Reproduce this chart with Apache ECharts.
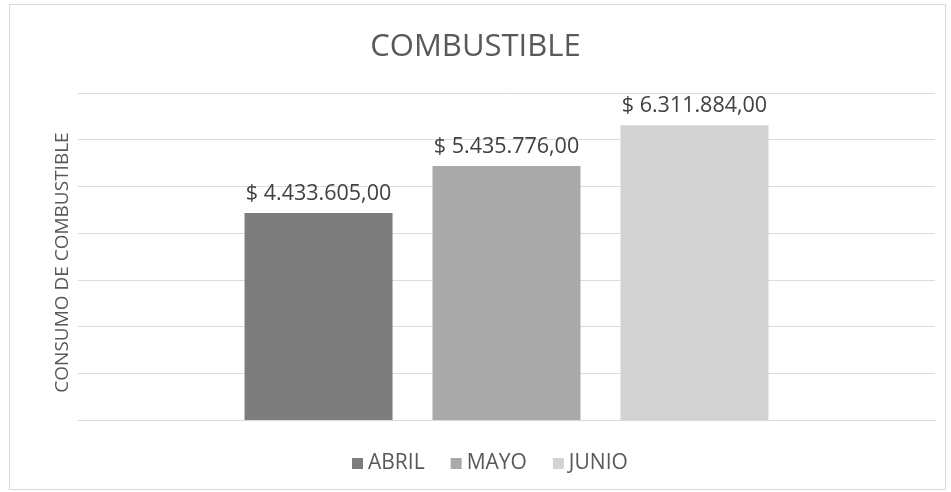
<!DOCTYPE html>
<html>
<head>
<meta charset="utf-8">
<script src="https://cdn.jsdelivr.net/npm/echarts@6/dist/echarts.min.js"></script>
<style>
html,body{margin:0;padding:0;background:#fff;}
#c{width:951px;height:492px;}
</style>
</head>
<body>
<div id="c"></div>
<script>
var categories = ['CONSUMO'];
var seriesNames = ['ABRIL', 'MAYO', 'JUNIO'];
var seriesValues = [4433605, 5435776, 6311884];
var seriesColors = ['#7d7d7d', '#a9a9a9', '#d3d3d3'];
var yTicks = [0, 1000000, 2000000, 3000000, 4000000, 5000000, 6000000, 7000000];

function fmt(v) {
  var s = Math.round(v).toString();
  var out = '';
  while (s.length > 3) { out = '.' + s.slice(-3) + out; s = s.slice(0, -3); }
  return '$ ' + s + out + ',00';
}

var chart = echarts.init(document.getElementById('c'), null, {renderer: 'canvas'});
var font = '"Open Sans", "Noto Sans", sans-serif';
var series = seriesNames.map(function (n, i) {
  return {
    name: n,
    type: 'bar',
    data: [seriesValues[i]],
    barWidth: 148,
    barGap: '27%',
    itemStyle: {color: seriesColors[i]},
    label: {
      show: true,
      position: 'top',
      distance: 8,
      formatter: function (p) { return fmt(p.value); },
      color: '#404040',
      fontSize: 21.5,
      fontFamily: font
    }
  };
});

chart.setOption({
  animation: false,
  backgroundColor: '#fff',
  title: {
    text: 'COMBUSTIBLE',
    left: 'center',
    top: 27,
    textStyle: {color: '#595959', fontSize: 31, fontWeight: 'normal', fontFamily: font}
  },
  legend: {
    data: seriesNames,
    bottom: 13,
    left: 347,
    itemWidth: 11,
    itemHeight: 11,
    itemGap: 26,
    icon: 'rect',
    textStyle: {color: '#595959', fontSize: 21, fontFamily: font}
  },
  grid: {left: 78, right: 16, top: 93, bottom: 72, containLabel: false},
  xAxis: {
    type: 'category',
    data: categories,
    axisLine: {show: true, lineStyle: {color: '#d9d9d9'}},
    axisTick: {show: false},
    axisLabel: {show: false}
  },
  yAxis: {
    type: 'value',
    min: yTicks[0],
    max: yTicks[yTicks.length - 1],
    interval: yTicks[1] - yTicks[0],
    name: 'CONSUMO DE COMBUSTIBLE',
    nameLocation: 'middle',
    nameGap: 6,
    nameTextStyle: {color: '#595959', fontSize: 19, fontFamily: font, padding: [0, 12, 0, 0]},
    axisLine: {show: false},
    axisTick: {show: false},
    axisLabel: {show: false},
    splitLine: {lineStyle: {color: '#dcdcdc', width: 1}}
  },
  graphic: [{
    type: 'rect',
    shape: {x: 9.5, y: 4.5, width: 936, height: 485},
    style: {fill: 'none', stroke: '#d9d9d9', lineWidth: 1},
    silent: true
  }],
  series: series
});
</script>
</body>
</html>
